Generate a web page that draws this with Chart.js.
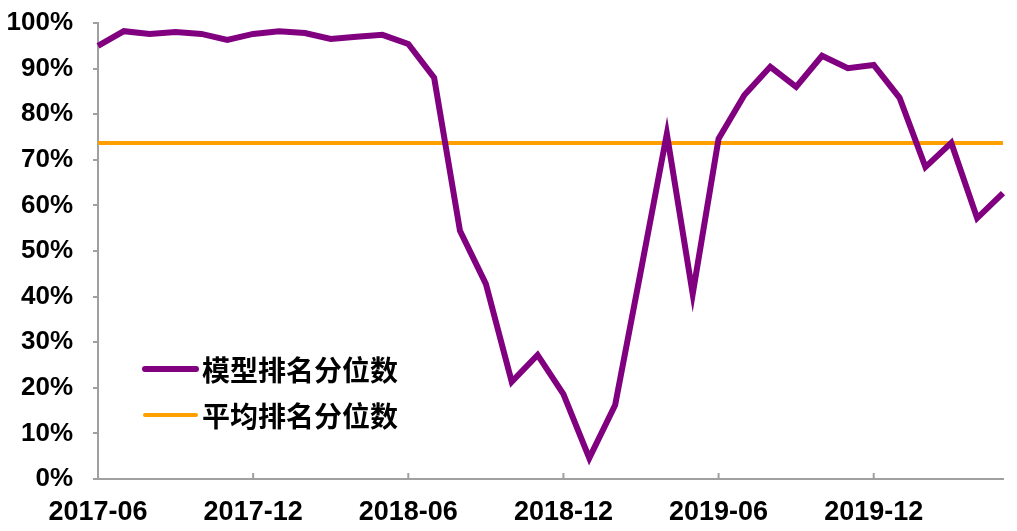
<!DOCTYPE html>
<html>
<head>
<meta charset="utf-8">
<script src="https://cdn.jsdelivr.net/npm/chart.js@4/dist/chart.umd.min.js"></script>
<style>
  body { margin: 0; background: #fff; }
  #wrap { width: 1017px; height: 531px; }
</style>
</head>
<body>
<div id="wrap"><canvas id="grafico" width="1017" height="531"></canvas></div>
<script>
// meses do periodo
var meses = [
    '2017-06', '2017-07', '2017-08', '2017-09', '2017-10', '2017-11',
    '2017-12', '2018-01', '2018-02', '2018-03', '2018-04', '2018-05',
    '2018-06', '2018-07', '2018-08', '2018-09', '2018-10', '2018-11',
    '2018-12', '2019-01', '2019-02', '2019-03', '2019-04', '2019-05',
    '2019-06', '2019-07', '2019-08', '2019-09', '2019-10', '2019-11',
    '2019-12', '2020-01', '2020-02', '2020-03', '2020-04', '2020-05'
];

// 模型排名分位数 (%)
var modeloRank = [
    95.0, 98.2, 97.6, 98.0, 97.6, 96.3,
    97.6, 98.2, 97.8, 96.5, 97.0, 97.4,
    95.4, 88.0, 54.4, 42.8, 21.3, 27.2,
    18.6, 4.6, 16.2, 45.8, 75.7, 40.6,
    74.6, 84.2, 90.4, 86.0, 92.8, 90.1,
    90.8, 83.6, 68.4, 73.7, 57.2, 62.7
];

// 平均排名分位数 (%)
var mediaRank = 73.7;

var nomesSeries = ['模型排名分位数', '平均排名分位数'];
var coresSeries = ['#800080', '#FFA000'];
var ticksY = [0, 10, 20, 30, 40, 50, 60, 70, 80, 90, 100];

var corEixo = '#a0a0a0';

// marcas do eixo x para dentro (para cima)
var marcasX = {
    id: 'marcasX',
    afterDraw: function (chart) {
        var ctx = chart.ctx;
        var x = chart.scales.x;
        var fundo = chart.chartArea.bottom;
        ctx.save();
        ctx.strokeStyle = corEixo;
        ctx.lineWidth = 2;
        for (var i = 6; i < meses.length; i += 6) {
            var px = x.getPixelForValue(i);
            ctx.beginPath();
            ctx.moveTo(px, fundo);
            ctx.lineTo(px, fundo - 6);
            ctx.stroke();
        }
        ctx.restore();
    }
};

// legenda dentro da area do grafico
var legenda = {
    id: 'legenda',
    afterDraw: function (chart) {
        var ctx = chart.ctx;
        var larguras = [6, 4];
        var ys = [369, 415];
        ctx.save();
        for (var i = 0; i < nomesSeries.length; i++) {
            ctx.strokeStyle = coresSeries[i];
            ctx.lineWidth = larguras[i];
            ctx.lineCap = 'round';
            ctx.beginPath();
            ctx.moveTo(145, ys[i]);
            ctx.lineTo(196, ys[i]);
            ctx.stroke();
            ctx.fillStyle = '#000';
            ctx.font = 'bold 28px "Noto Sans CJK SC"';
            ctx.textBaseline = 'middle';
            ctx.fillText(nomesSeries[i], 202, ys[i] + 1);
        }
        ctx.restore();
    }
};

var config = {
    type: 'line',
    data: {
        labels: meses,
        datasets: [{
            label: nomesSeries[0],
            data: modeloRank,
            borderColor: coresSeries[0],
            backgroundColor: coresSeries[0],
            borderWidth: 6,
            pointRadius: 0,
            fill: false,
            tension: 0
        }, {
            label: nomesSeries[1],
            data: [{ x: meses[0], y: mediaRank }, { x: meses[meses.length - 1], y: mediaRank }],
            borderColor: coresSeries[1],
            backgroundColor: coresSeries[1],
            borderWidth: 4,
            pointRadius: 0,
            fill: false,
            tension: 0
        }]
    },
    options: {
        responsive: false,
        animation: false,
        plugins: {
            legend: { display: false },
            tooltip: { enabled: false }
        },
        layout: {
            padding: { left: 6, right: 14, top: 23, bottom: 0 }
        },
        scales: {
            x: {
                type: 'category',
                offset: false,
                grid: { display: false, drawTicks: false },
                border: { color: corEixo, width: 2 },
                afterFit: function (scale) { scale.height = 52; },
                ticks: {
                    autoSkip: false,
                    maxRotation: 0,
                    padding: 17,
                    color: '#000',
                    font: { family: 'Liberation Sans', size: 27, weight: 'bold' },
                    callback: function (value, index) {
                        return index % 6 === 0 ? meses[index] : null;
                    }
                }
            },
            y: {
                min: 0,
                max: 100,
                afterBuildTicks: function (axis) {
                    axis.ticks = ticksY.map(function (v) { return { value: v }; });
                },
                afterFit: function (scale) {
                    scale.width = 92;
                    scale.paddingTop = 0;
                    scale.paddingBottom = 0;
                },
                grid: {
                    drawOnChartArea: false,
                    drawTicks: true,
                    tickLength: 5,
                    color: corEixo,
                    lineWidth: 2
                },
                border: { color: corEixo, width: 2 },
                ticks: {
                    padding: 20,
                    color: '#000',
                    font: { family: 'Liberation Sans', size: 26, weight: 'bold' },
                    callback: function (value) { return value + '%'; }
                }
            }
        }
    },
    plugins: [marcasX, legenda]
};

var myChart = new Chart(document.getElementById('grafico'), config);
</script>
</body>
</html>
